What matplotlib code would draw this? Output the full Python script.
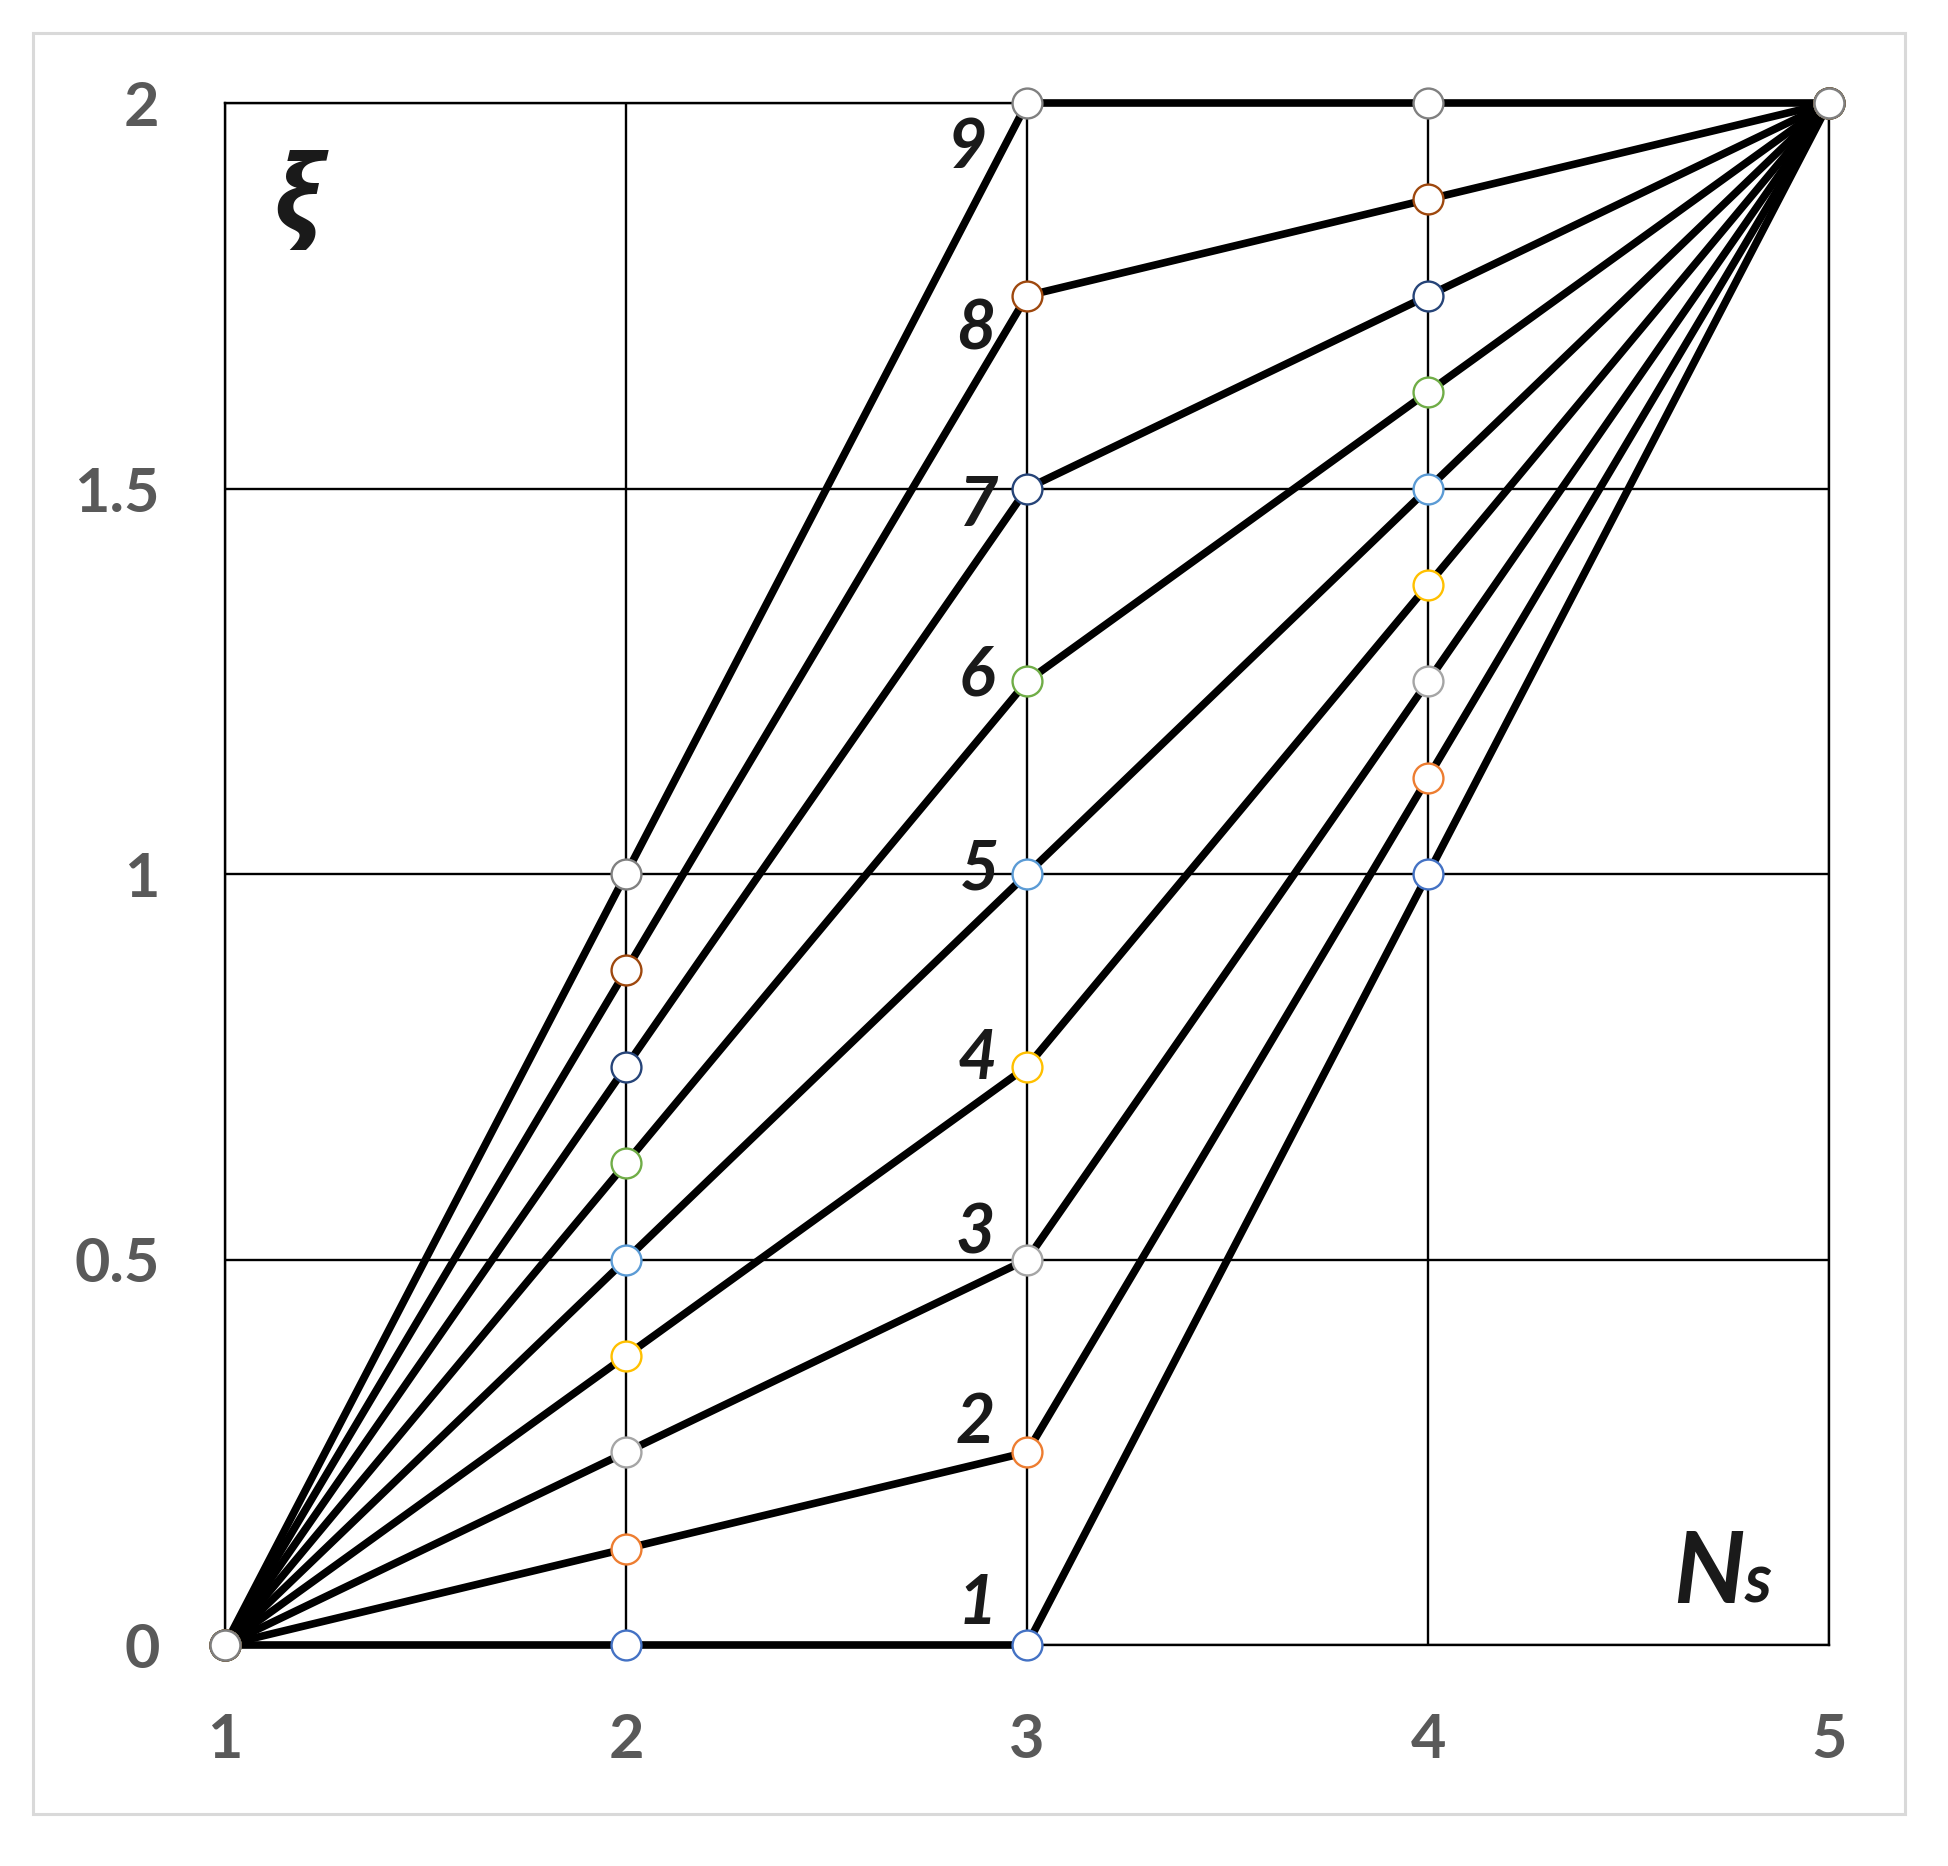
import matplotlib
matplotlib.use("Agg")
import matplotlib.pyplot as plt
from matplotlib.patches import Rectangle

# ---- data ----
ns_values = [1, 2, 3, 4, 5]
series_labels = ["1", "2", "3", "4", "5", "6", "7", "8", "9"]
xi_series = [
    [0, 0.000, 0.00, 1.000, 2],
    [0, 0.125, 0.25, 1.125, 2],
    [0, 0.250, 0.50, 1.250, 2],
    [0, 0.375, 0.75, 1.375, 2],
    [0, 0.500, 1.00, 1.500, 2],
    [0, 0.625, 1.25, 1.625, 2],
    [0, 0.750, 1.50, 1.750, 2],
    [0, 0.875, 1.75, 1.875, 2],
    [0, 1.000, 2.00, 2.000, 2],
]
x_ticks = [1, 2, 3, 4, 5]
x_tick_labels = ["1", "2", "3", "4", "5"]
y_ticks = [0, 0.5, 1, 1.5, 2]
y_tick_labels = ["0", "0.5", "1", "1.5", "2"]

# ---- styles ----
marker_colors = ["#4472C4", "#ED7D31", "#A5A5A5", "#FFC000", "#5B9BD5",
                 "#70AD47", "#264478", "#9E480E", "#808080"]
# label offsets (points) relative to the x=3 point of each series
label_offsets = [(-36, 29), (-37, 21), (-37, 18), (-36, 5), (-34, 3),
                 (-36, 4), (-35, -13), (-37, -25), (-43, -33)]

W, H = 1948, 1866
fig = plt.figure(figsize=(W / 100, H / 100), dpi=100)
fig.patch.set_facecolor("white")

# outer light-gray border
fig.add_artist(Rectangle((33 / W, 1 - 1814 / H), (1905 - 33) / W, (1814 - 33) / H,
                         transform=fig.transFigure, fill=False,
                         edgecolor="#d9d9d9", linewidth=2.2, zorder=0))

ax = fig.add_axes([225 / W, 1 - 1645 / H, (1829 - 225) / W, (1645 - 103) / H])
ax.set_xlim(1, 5)
ax.set_ylim(0, 2)

for yv in y_ticks:
    ax.axhline(yv, color="black", linewidth=1.7, zorder=1)
for xv in x_ticks:
    ax.axvline(xv, color="black", linewidth=1.7, zorder=1)
for s in ax.spines.values():
    s.set_color("black")
    s.set_linewidth(1.7)

for ys in xi_series:
    ax.plot(ns_values, ys, color="black", linewidth=5.5, zorder=3,
            solid_capstyle="round", clip_on=False)
for ys, c in zip(xi_series, marker_colors):
    ax.plot(ns_values, ys, linestyle="none", marker="o", markersize=21.5,
            markerfacecolor="white", markeredgecolor=c, markeredgewidth=1.7,
            zorder=4, clip_on=False)

for lab, ys, off in zip(series_labels, xi_series, label_offsets):
    ax.annotate(lab, xy=(ns_values[2], ys[2]), xytext=off, textcoords="offset points",
                ha="center", va="center", fontsize=49, fontweight="bold",
                fontstyle="italic", family="Lato", color="#1a1a1a", zorder=5)

ax.set_xticks(x_ticks)
ax.set_xticklabels(x_tick_labels)
ax.set_yticks(y_ticks)
ax.set_yticklabels(y_tick_labels)
ax.tick_params(axis="both", length=0, colors="#595959", labelsize=44)
ax.tick_params(axis="x", pad=48)
ax.tick_params(axis="y", pad=47)
for t in ax.get_xticklabels() + ax.get_yticklabels():
    t.set_fontweight("bold")
    t.set_family("Lato")

ax.text(1.18, 1.87, "ξ", fontsize=76, fontweight="bold", fontstyle="italic",
        family="Open Sans", color="#1a1a1a", ha="center", va="center", zorder=5)
ax.text(4.79, 0.055, "N", fontsize=72, fontweight="bold", fontstyle="italic",
        family="Lato", color="#1a1a1a", ha="right", va="baseline", zorder=5)
ax.text(4.79, 0.055, "s", fontsize=48, fontweight="bold", fontstyle="italic",
        family="Lato", color="#1a1a1a", ha="left", va="baseline", zorder=5)

fig.savefig("out.png", dpi=100, facecolor="white")
